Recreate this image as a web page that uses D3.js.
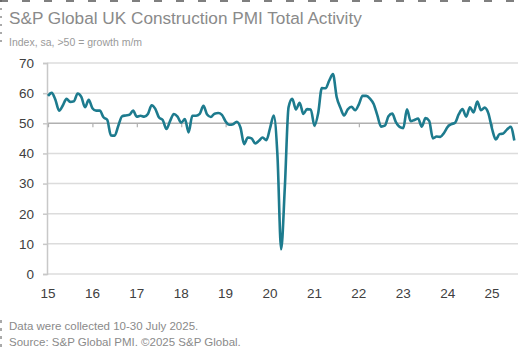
<!DOCTYPE html>
<html>
<head>
<meta charset="utf-8">
<script src="https://cdn.jsdelivr.net/npm/d3@7"></script>
<style>
  body { margin: 0; background: #fff; }
  svg { display: block; font-family: "Liberation Sans", Arial, sans-serif; }
</style>
</head>
<body>
<div id="chart"></div>
<script>
// monthly index values, Jan 2015 .. Jul 2025
const pmi2015 = [59.1, 60.1, 57.8, 54.2, 55.9, 58.1, 57.1, 57.3, 59.9, 58.8, 55.3, 57.8];
const pmi2016 = [55.0, 54.2, 54.2, 52.0, 51.2, 46.0, 45.9, 49.2, 52.3, 52.6, 52.8, 54.2];
const pmi2017 = [52.2, 52.5, 52.2, 53.1, 56.0, 54.8, 51.9, 51.1, 48.1, 50.8, 53.1, 52.2];
const pmi2018 = [50.2, 51.4, 47.0, 52.5, 52.5, 53.1, 55.8, 52.9, 52.1, 53.2, 53.4, 52.8];
const pmi2019 = [50.6, 49.5, 49.7, 50.5, 48.6, 43.1, 45.3, 45.0, 43.3, 44.2, 45.3, 44.4];
const pmi2020 = [48.4, 52.6, 39.3, 8.2, 28.9, 55.3, 58.1, 54.6, 56.8, 53.1, 54.7, 54.6];
const pmi2021 = [49.2, 53.3, 61.7, 61.6, 64.2, 66.3, 58.7, 55.2, 52.6, 54.6, 55.5, 54.3];
const pmi2022 = [56.3, 59.1, 59.1, 58.2, 56.4, 52.6, 48.9, 49.2, 52.3, 53.2, 50.4, 48.8];
const pmi2023 = [48.4, 54.6, 50.7, 51.1, 51.6, 48.9, 51.7, 50.8, 45.0, 45.6, 45.5, 46.8];
const pmi2024 = [48.8, 49.7, 50.2, 53.0, 54.7, 52.2, 55.3, 53.6, 57.2, 54.3, 55.2, 53.3];
const pmi2025 = [48.1, 44.6, 46.4, 46.6, 47.9, 48.8, 44.3];

const yearLabels = ['15', '16', '17', '18', '19', '20', '21', '22', '23', '24', '25'];
const yTicks = [0, 10, 20, 30, 40, 50, 60, 70];

const titleText = 'S&P Global UK Construction PMI Total Activity';
const subtitleText = 'Index, sa, >50 = growth m/m';
const notes = ['Data were collected 10-30 July 2025.', 'Source: S&P Global PMI. \u00A92025 S&P Global.'];

const values = [].concat(pmi2015, pmi2016, pmi2017, pmi2018, pmi2019, pmi2020,
    pmi2021, pmi2022, pmi2023, pmi2024, pmi2025);
const data = values.map((v, i) => ({month: i, value: v}));

const width = 528;
const height = 354;

const svg = d3.select('#chart')
    .append('svg')
    .attr('width', width)
    .attr('height', height);

// screenshot selection border (top dashes, short left marks)
svg.append('line')
    .attr('x1', 0).attr('x2', width)
    .attr('y1', 1).attr('y2', 1)
    .attr('stroke', '#555')
    .attr('stroke-width', 1.5)
    .attr('stroke-dasharray', '8,14');
svg.append('line')
    .attr('x1', 1).attr('x2', 1)
    .attr('y1', 0).attr('y2', 48)
    .attr('stroke', '#555')
    .attr('stroke-width', 1)
    .attr('stroke-dasharray', '2,6');
svg.append('line')
    .attr('x1', 1).attr('x2', 1)
    .attr('y1', 320).attr('y2', 352)
    .attr('stroke', '#555')
    .attr('stroke-width', 1)
    .attr('stroke-dasharray', '3,5');

// titles
svg.append('text')
    .attr('x', 9).attr('y', 24)
    .attr('fill', '#8a8a8a')
    .attr('font-size', 17.2)
    .text(titleText);
svg.append('text')
    .attr('x', 9).attr('y', 46)
    .attr('fill', '#9a9a9a')
    .attr('font-size', 10.5)
    .text(subtitleText);

svg.selectAll('.note')
    .data(notes)
    .enter()
    .append('text')
    .attr('class', 'note')
    .attr('x', 9)
    .attr('y', (d, i) => 330 + i * 16)
    .attr('fill', '#8a8a8a')
    .attr('font-size', 11.5)
    .text(d => d);

// scales
const scaleX = d3.scaleLinear()
    .domain([0, 127])
    .range([48, 518]);
const scaleY = d3.scaleLinear()
    .domain([0, 70])
    .range([274, 63]);

// horizontal gridlines
svg.selectAll('.grid')
    .data(yTicks)
    .enter()
    .append('line')
    .attr('class', 'grid')
    .attr('x1', scaleX(0) - 1)
    .attr('x2', scaleX(127))
    .attr('y1', d => scaleY(d))
    .attr('y2', d => scaleY(d))
    .attr('stroke', d => d === 50 ? '#b0b0b0' : '#dcdcdc')
    .attr('stroke-width', 1.5);

// y axis
const axisY = d3.axisLeft(scaleY)
    .tickValues(yTicks)
    .tickSize(4)
    .tickPadding(9);
const axisYNode = svg.append('g')
    .attr('transform', `translate(${scaleX(0) - 1},0)`)
    .call(axisY);
axisYNode.select('.domain').attr('stroke', '#c8c8c8').attr('stroke-width', 1.5);
axisYNode.selectAll('.tick line').attr('stroke', '#c8c8c8').attr('stroke-width', 1.5);
axisYNode.selectAll('text')
    .attr('fill', '#404040')
    .attr('font-size', 13.5)
    .attr('font-family', '"Liberation Sans", Arial, sans-serif');

// x axis crosses at 50, labels at bottom
const yearMonths = yearLabels.map((d, i) => i * 12);
const axisX = d3.axisBottom(scaleX)
    .tickValues(yearMonths)
    .tickSize(4)
    .tickFormat('');
const axisXNode = svg.append('g')
    .attr('transform', `translate(0,${scaleY(50)})`)
    .call(axisX);
axisXNode.select('.domain').remove();
axisXNode.selectAll('.tick line').attr('stroke', '#b0b0b0').attr('stroke-width', 1.2);

svg.selectAll('.xlabel')
    .data(yearLabels)
    .enter()
    .append('text')
    .attr('class', 'xlabel')
    .attr('x', (d, i) => scaleX(yearMonths[i]))
    .attr('y', 298)
    .attr('text-anchor', 'middle')
    .attr('fill', '#404040')
    .attr('font-size', 13.5)
    .text(d => d);

// the line
const line = d3.line()
    .x(d => scaleX(d.month))
    .y(d => scaleY(d.value))
    .curve(d3.curveMonotoneX);

svg.append('path')
    .datum(data)
    .attr('fill', 'none')
    .attr('stroke', '#1d7b8e')
    .attr('stroke-width', 2.6)
    .attr('stroke-linejoin', 'round')
    .attr('d', line);
</script>
</body>
</html>
